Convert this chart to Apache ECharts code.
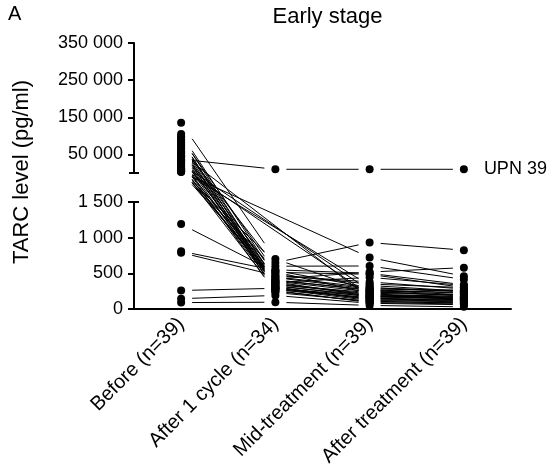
<!DOCTYPE html>
<html>
<head>
<meta charset="utf-8">
<script src="https://cdn.jsdelivr.net/npm/echarts@6/dist/echarts.min.js"></script>
<style>
  html, body { margin: 0; padding: 0; background: #fff; }
  #main { width: 550px; height: 475px; }
</style>
</head>
<body>
<div id="main"></div>
<script>
// 分类与数据（按患者顺序，null = 未测）
var categories = ['Before (n=39)', 'After 1 cycle (n=34)', 'Mid-treatment (n=39)', 'After treatment (n=39)'];
var before = [135000, 105000, 98000, 95000, 90000, 86000, 82000, 78000, 74000, 70000,
  66000, 62000, 58000, 55000, 52000, 48000, 45000, 42000, 37000, 34000,
  31000, 28000, 25000, 22000, 19000, 16000, 13000, 10000, 8000, 6000,
  4500, 3500, 2500, 1190, 810, 790, 260, 145, 90];
var after1 = [700, 450, 380, 520, 300, 410, 350, 280, 600, 330,
  250, 480, 390, 310, null, 360, 270, 440, 10000, 320,
  230, 400, null, 290, 340, null, 260, 370, null, 650,
  550, null, 420, 514, 540, 470, 290, 190, 95];
var mid = [250, 300, 180, 220, 150, 260, 200, 120, 603, 170,
  100, 350, 240, 130, 150, 210, 160, 280, 10000, 190,
  110, 270, 260, 140, 230, 200, 90, 444, 330, 932,
  500, 721, 518, 486, 300, 380, 180, 80, 50];
var after = [180, 250, 150, 200, 120, 230, 160, 100, 415, 140,
  90, 300, 190, 110, 130, 170, 210, 260, 10000, 150,
  80, 220, 200, 120, 270, 160, 70, 330, 250, 824,
  340, 460, 580, 300, 240, 280, 140, 60, 30];
var labelPatient = 18; // UPN 39
var upperTicks = [50000, 150000, 250000, 350000];
var lowerTicks = [0, 500, 1000, 1500];
var BREAK = 1500;

var font = 'Liberation Sans, Arial, sans-serif';
var axisLeft = 134, axisRight = 39;
var upTop = 43, upH = 130, lowTop = 202, lowH = 107;

var series_all = [before, after1, mid, after];
var upperPts = [], lowerPts = [], segments = [];
for (var p = 0; p < before.length; p++) {
  var prev = null;
  for (var c = 0; c < 4; c++) {
    var v = series_all[c][p];
    if (v == null) continue;
    var item = [c, v];
    if (p === labelPatient && c === 3) {
      item = { value: [c, v], label: { show: true, formatter: 'UPN 39', position: 'right', distance: 16,
        color: '#000', fontSize: 18, fontFamily: font } };
    }
    (v > BREAK ? upperPts : lowerPts).push(item);
    if (prev) segments.push([prev[0], prev[1], c, v]);
    prev = [c, v];
  }
}

function fmt(v) { return String(v).replace(/\B(?=(\d{3})+(?!\d))/g, ' '); }

var myChart = echarts.init(document.getElementById('main'));

function toPixel(c, v) {
  return myChart.convertToPixel({ gridIndex: v > BREAK ? 0 : 1 }, [c, v]);
}

var axisStyle = { lineStyle: { color: '#000', width: 2 } };
var option = {
  animation: false,
  textStyle: { fontFamily: font },
  title: {
    text: 'Early stage', left: axisLeft + (550 - axisLeft - axisRight) / 2, top: 1, textAlign: 'center',
    textStyle: { fontSize: 22, fontWeight: 'normal', color: '#000', fontFamily: font }
  },
  graphic: [
    { type: 'text', left: 8, top: 4, style: { text: 'A', fill: '#000', font: '20px ' + font } },
    { type: 'text', x: 22, y: 172, rotation: Math.PI / 2,
      style: { text: 'TARC level (pg/ml)', fill: '#000', font: '22px ' + font, textAlign: 'center', textVerticalAlign: 'middle' } },
    { type: 'line', shape: { x1: axisLeft - 5, y1: upTop + upH, x2: axisLeft + 5, y2: upTop + upH }, style: { stroke: '#000', lineWidth: 2 } },
    { type: 'line', shape: { x1: axisLeft - 5, y1: lowTop, x2: axisLeft + 5, y2: lowTop }, style: { stroke: '#000', lineWidth: 2 } }
  ],
  grid: [
    { left: axisLeft, right: axisRight, top: upTop, height: upH },
    { left: axisLeft, right: axisRight, top: lowTop, height: lowH }
  ],
  xAxis: [
    { type: 'category', gridIndex: 0, data: categories, show: false },
    { type: 'category', gridIndex: 1, data: categories,
      axisLine: axisStyle,
      axisTick: { alignWithLabel: true, length: 6, lineStyle: { color: '#000', width: 2 } },
      axisLabel: { rotate: 45, margin: 12, color: '#000', fontSize: 20, fontFamily: font, interval: 0 } }
  ],
  yAxis: [
    { type: 'value', gridIndex: 0, min: 0, max: 350000,
      axisLine: { show: true, lineStyle: { color: '#000', width: 2 } },
      axisTick: { show: true, length: 6, customValues: upperTicks, lineStyle: { color: '#000', width: 2 } },
      axisLabel: { customValues: upperTicks, formatter: fmt, margin: 11, color: '#000', fontSize: 18, fontFamily: font },
      splitLine: { show: false } },
    { type: 'value', gridIndex: 1, min: 0, max: 1500, interval: 500,
      axisLine: { show: true, lineStyle: { color: '#000', width: 2 } },
      axisTick: { show: true, length: 6, lineStyle: { color: '#000', width: 2 } },
      axisLabel: { formatter: fmt, margin: 11, color: '#000', fontSize: 18, fontFamily: font },
      splitLine: { show: false } }
  ],
  series: [
    {
      type: 'custom',
      coordinateSystem: 'none',
      data: segments,
      z: 1,
      silent: true,
      renderItem: function (params, api) {
        var a = toPixel(api.value(0), api.value(1));
        var b = toPixel(api.value(2), api.value(3));
        var gap = 11;
        var dx = b[0] - a[0], dy = b[1] - a[1];
        var t = gap / dx;
        return {
          type: 'line',
          shape: { x1: a[0] + dx * t, y1: a[1] + dy * t, x2: b[0] - dx * t, y2: b[1] - dy * t },
          style: { stroke: '#000', lineWidth: 1 }
        };
      }
    },
    { type: 'scatter', xAxisIndex: 0, yAxisIndex: 0, data: upperPts, symbolSize: 8,
      itemStyle: { color: '#000', opacity: 1 }, z: 3 },
    { type: 'scatter', xAxisIndex: 1, yAxisIndex: 1, data: lowerPts, symbolSize: 8,
      itemStyle: { color: '#000', opacity: 1 }, z: 3 }
  ]
};

myChart.setOption(option);
</script>
</body>
</html>
